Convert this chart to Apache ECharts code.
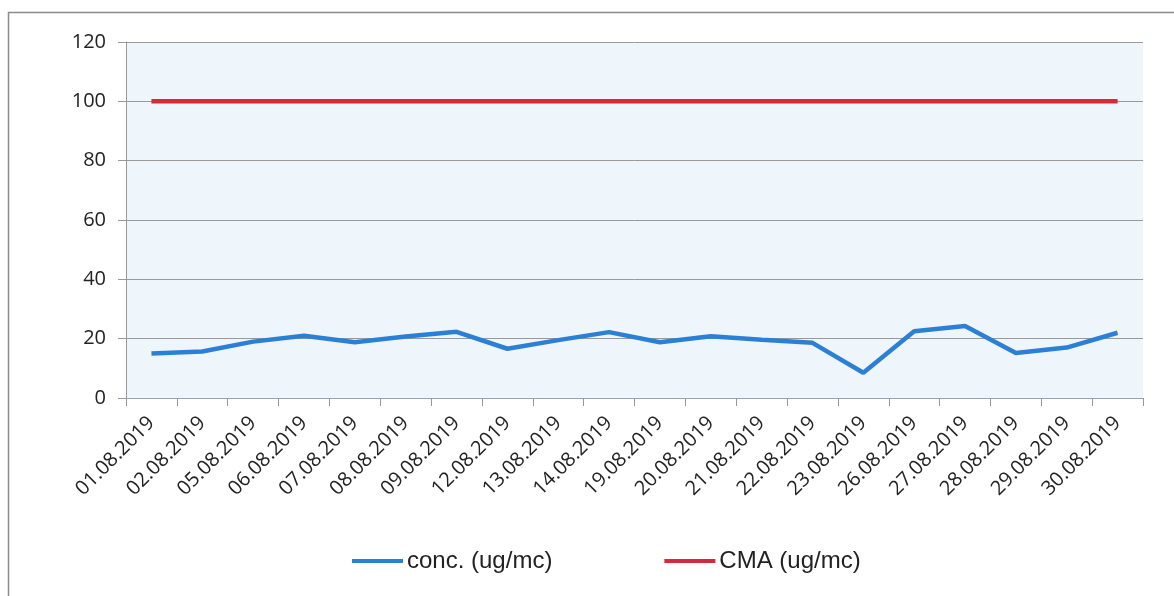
<!DOCTYPE html>
<html><head><meta charset="utf-8">
<script src="https://cdn.jsdelivr.net/npm/echarts@6/dist/echarts.min.js"></script>
<style>html,body{margin:0;padding:0;background:#fff}#c{width:1174px;height:596px}</style>
</head><body><div id="c"></div>
<script>
const categories = ["01.08.2019","02.08.2019","05.08.2019","06.08.2019","07.08.2019","08.08.2019","09.08.2019","12.08.2019","13.08.2019","14.08.2019","19.08.2019","20.08.2019","21.08.2019","22.08.2019","23.08.2019","26.08.2019","27.08.2019","28.08.2019","29.08.2019","30.08.2019"];
const conc = [15, 15.7, 19, 21, 18.8, 20.7, 22.3, 16.6, 19.5, 22.2, 18.8, 20.8, 19.6, 18.6, 8.5, 22.5, 24.3, 15.2, 17, 22];
const cma = [100,100,100,100,100,100,100,100,100,100,100,100,100,100,100,100,100,100,100,100];
const yTicks = [0, 20, 40, 60, 80, 100, 120];

const chart = echarts.init(document.getElementById('c'));
chart.setOption({
  animation: false,
  graphic: [{type:'rect', shape:{x:8.5,y:12.5,width:1190,height:600}, style:{fill:'none', stroke:'#8a8a8a', lineWidth:1.5}}],
  grid: {left:126, top:42, right:31, bottom:198, show:true, backgroundColor:'#eff6fb', borderWidth:0},
  legend: {
    top: 544, left: 347, itemGap: 112, itemWidth: 51, itemHeight: 4,
    icon: 'rect',
    textStyle: {fontFamily:'Liberation Sans', fontSize:24, color:'#222', padding:[0,0,0,-1]},
    data: ['conc. (ug/mc)', 'CMA (ug/mc)']
  },
  xAxis: {
    type:'category', data: categories, boundaryGap: true,
    axisLine:{lineStyle:{color:'#9aa3b5', width:1}},
    axisTick:{show:true, length:8, lineStyle:{color:'#999'}},
    axisLabel:{rotate:45, fontFamily:'Open Sans', fontSize:20, color:'#222', margin:22}
  },
  yAxis: {
    type:'value', min:0, max:120, interval:20,
    axisLine:{show:true, lineStyle:{color:'#999'}},
    axisTick:{show:true, length:8, lineStyle:{color:'#999'}},
    splitLine:{lineStyle:{color:'#999', width:1}},
    axisLabel:{fontFamily:'Open Sans', fontSize:20, color:'#222', margin:20,
      formatter: v => yTicks.includes(v) ? String(v) : ''}
  },
  series: [
    {name:'conc. (ug/mc)', type:'line', data: conc, symbol:'none', lineStyle:{color:'#2b80d6', width:4.5}, itemStyle:{color:'#2b80d6'}},
    {name:'CMA (ug/mc)', type:'line', data: cma, symbol:'none', lineStyle:{color:'#d42a3c', width:4.5}, itemStyle:{color:'#d42a3c'}}
  ]
});
</script></body></html>
